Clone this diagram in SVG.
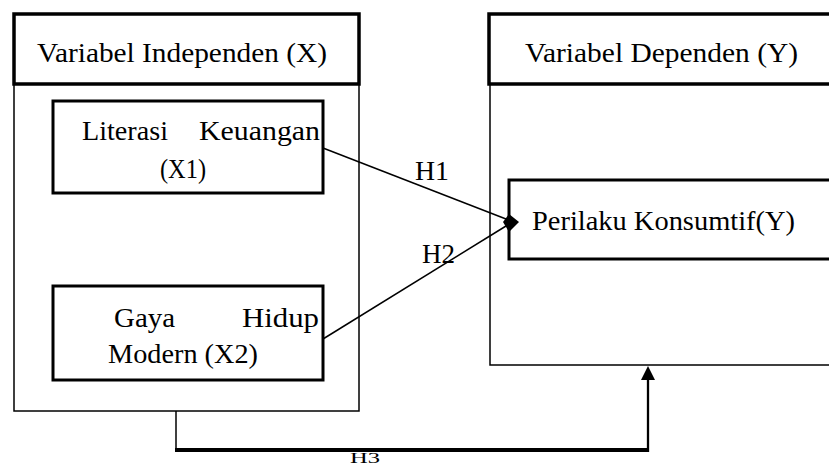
<svg xmlns="http://www.w3.org/2000/svg" width="829" height="467" viewBox="0 0 829 467">
<defs>
<style>
.t{font-family:"Liberation Serif","Times New Roman",serif;font-size:27px;fill:#000}
.thick{fill:none;stroke:#000;stroke-width:3.5}
.mid{fill:none;stroke:#000;stroke-width:3}
.thin{fill:none;stroke:#000;stroke-width:1.5}
.con{fill:none;stroke:#000;stroke-width:1.5}
</style>
<filter id="sh" x="-5%" y="-200%" width="110%" height="500%">
<feGaussianBlur stdDeviation="1.5"/>
</filter>
</defs>
<rect width="829" height="467" fill="#fff"/>
<g id="indep">
<rect class="thin" x="14" y="84" width="345" height="327"/>
<rect class="thick" x="14" y="14" width="345" height="70"/>
<text class="t" x="37" y="62" textLength="290" lengthAdjust="spacingAndGlyphs">Variabel Independen (X)</text>
</g>
<g id="x1">
<rect class="mid" x="53" y="101" width="270" height="92"/>
<text class="t" x="82" y="140" textLength="86" lengthAdjust="spacingAndGlyphs">Literasi</text>
<text class="t" x="199" y="140" textLength="121" lengthAdjust="spacingAndGlyphs">Keuangan</text>
<text class="t" x="160" y="178" textLength="46" lengthAdjust="spacingAndGlyphs">(X1)</text>
</g>
<g id="x2">
<rect class="mid" x="53" y="286" width="270" height="94"/>
<text class="t" x="114" y="327" textLength="61" lengthAdjust="spacingAndGlyphs">Gaya</text>
<text class="t" x="242" y="327" textLength="77" lengthAdjust="spacingAndGlyphs">Hidup</text>
<text class="t" x="108" y="363" textLength="150" lengthAdjust="spacingAndGlyphs">Modern (X2)</text>
</g>
<g id="dep">
<path class="thin" d="M490 84 V365 H835"/>
<rect class="thick" x="489" y="14" width="350" height="70"/>
<text class="t" x="525" y="62" textLength="273" lengthAdjust="spacingAndGlyphs">Variabel Dependen (Y)</text>
</g>
<g id="y">
<rect class="mid" x="509" y="180" width="330" height="79"/>
<text class="t" x="532" y="230" textLength="263" lengthAdjust="spacingAndGlyphs">Perilaku Konsumtif(Y)</text>
</g>
<g id="connectors">
<line class="con" x1="323" y1="148" x2="506" y2="219"/>
<line class="con" x1="323" y1="339" x2="506" y2="226"/>
<polygon points="503,222 509,214 519,222 509,232" fill="#000"/>
<text class="t" x="415" y="180" textLength="34" lengthAdjust="spacingAndGlyphs">H1</text>
<text class="t" x="422" y="263" textLength="33" lengthAdjust="spacingAndGlyphs">H2</text>
<line class="con" x1="176" y1="411" x2="176" y2="450"/>
<line x1="178" y1="454" x2="648" y2="454" stroke="#888" stroke-width="4" filter="url(#sh)"/>
<line x1="175" y1="450" x2="649" y2="450" stroke="#000" stroke-width="4"/>
<line x1="648" y1="452" x2="648" y2="378" stroke="#000" stroke-width="2.3"/>
<polygon points="648,366 655,380 641,380" fill="#000"/>
<text x="350" y="463" textLength="30" lengthAdjust="spacingAndGlyphs" style="font-family:'Liberation Serif',serif;font-size:15px">H3</text>
</g>
</svg>
